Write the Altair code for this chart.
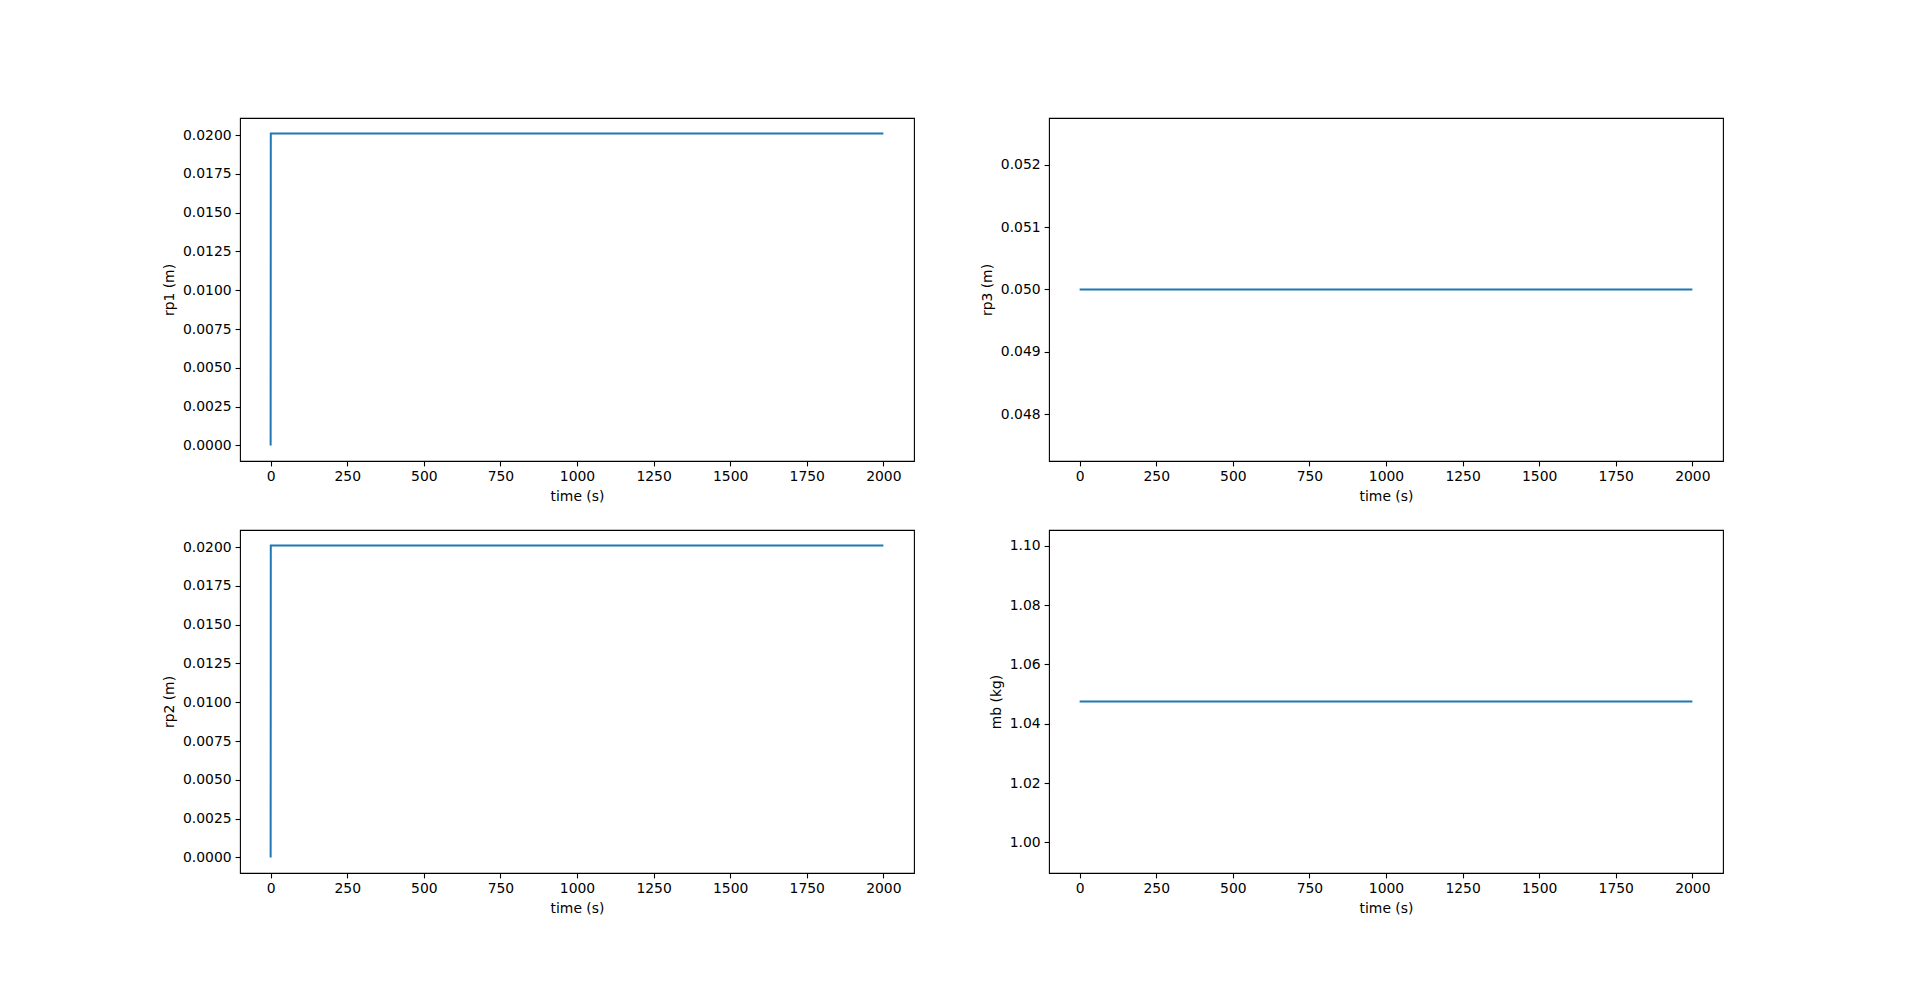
import altair as alt
import pandas as pd

time_rp1 = [0, 0.5, 2000]
rp1 = [0.0, 0.0201, 0.0201]
time_rp2 = [0, 0.5, 2000]
rp2 = [0.0, 0.0201, 0.0201]
time_rp3 = [0, 2000]
rp3 = [0.05, 0.05]
time_mb = [0, 2000]
mb = [1.0475, 1.0475]

x_ticks = [0, 250, 500, 750, 1000, 1250, 1500, 1750, 2000]
rp_ticks = [0.0, 0.0025, 0.005, 0.0075, 0.01, 0.0125, 0.015, 0.0175, 0.02]
rp3_ticks = [0.048, 0.049, 0.050, 0.051, 0.052]
mb_ticks = [1.00, 1.02, 1.04, 1.06, 1.08, 1.10]

W, H = 674, 343
COLOR = "#1f77b4"


def panel(t, v, title, domain, ticks, fmt):
    df = pd.DataFrame({"t": t, "v": v})
    return alt.Chart(df).mark_line(color=COLOR, strokeWidth=2.0, clip=True).encode(
        x=alt.X("t:Q", title="time (s)",
                scale=alt.Scale(domain=[-100, 2100], nice=False, zero=False),
                axis=alt.Axis(values=x_ticks, format="d")),
        y=alt.Y("v:Q", title=title,
                scale=alt.Scale(domain=domain, nice=False, zero=False),
                axis=alt.Axis(values=ticks, format=fmt)),
        order=alt.Order("t:Q"),
    ).properties(width=W, height=H)


p1 = panel(time_rp1, rp1, "rp1 (m)", [-0.001005, 0.021105], rp_ticks, ".4f")
p3 = panel(time_rp3, rp3, "rp3 (m)", [0.04725, 0.05275], rp3_ticks, ".3f")
p2 = panel(time_rp2, rp2, "rp2 (m)", [-0.001005, 0.021105], rp_ticks, ".4f")
p4 = panel(time_mb, mb, "mb (kg)", [0.98966, 1.10534], mb_ticks, ".2f")

chart = alt.concat(p1, p3, p2, p4, columns=2,
                   spacing={"row": 69, "column": 135},
                   bounds="flush").properties(
    padding={"left": 153, "top": 109, "right": 10, "bottom": 10},
    background="white",
).configure_view(
    stroke="black", strokeWidth=1.1
).configure_axis(
    labelFont="DejaVu Sans", labelFontSize=13.9, labelColor="black",
    titleFont="DejaVu Sans", titleFontSize=13.9, titleColor="black",
    titleFontWeight="normal", tickColor="black", tickSize=4.9, tickWidth=1.1,
    labelPadding=4, titlePadding=6, domain=False, grid=False,
)

chart.save("out.html", embed_options={"renderer": "svg", "actions": False})
